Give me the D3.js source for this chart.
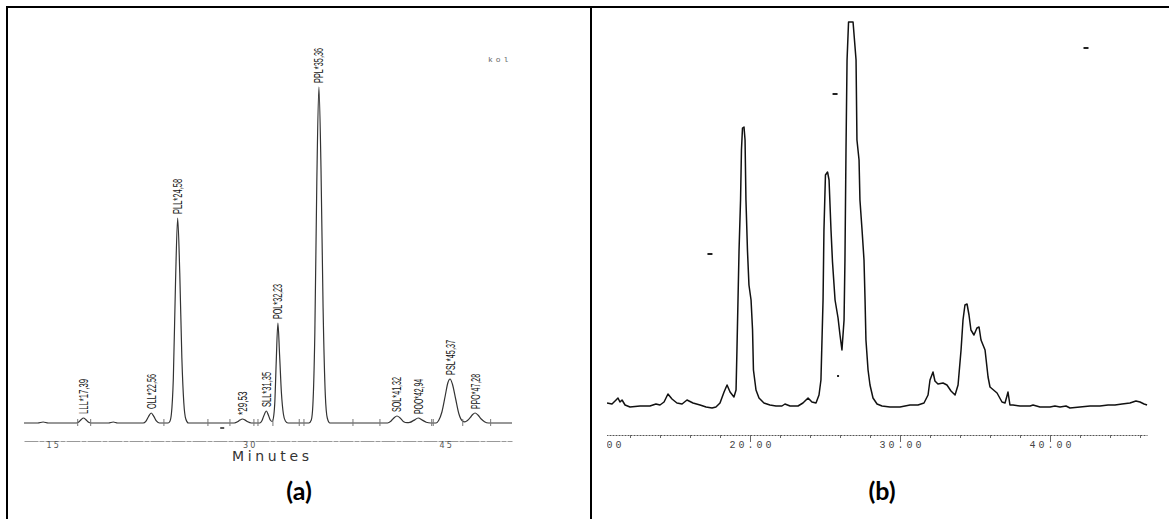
<!DOCTYPE html>
<html>
<head>
<meta charset="utf-8">
<script src="https://cdn.jsdelivr.net/npm/d3@7"></script>
<style>
  html, body { margin: 0; padding: 0; background: #fff; }
  svg { display: block; }
</style>
</head>
<body>
<svg id="fig" width="1169" height="519"></svg>
<script>
// ---------- Panel (a): labelled TAG chromatogram ----------
const peakNamesA = ["LLL", "OLL", "PLL", "", "SLL", "POL", "PPL", "SOL", "POO", "PSL", "PPO"];
const peakTimesA = [17.39, 22.56, 24.58, 29.53, 31.35, 32.23, 35.36, 41.32, 42.94, 45.37, 47.28];

// detector trace, [minutes, response]
const traceA = [
  [12.85, 0], [13.9, 0], [14.31, 1], [14.7, 0],
  [16.85, 0], [17.0, 0.7], [17.2, 3.2], [17.39, 5], [17.58, 3.2], [17.78, 0.7], [17.95, 0],
  [19.3, 0], [19.66, 1], [20.0, 0],
  [21.95, 0], [22.15, 1.7], [22.35, 6.3], [22.56, 10], [22.77, 6.3], [22.97, 1.8], [23.2, 0],
  [23.85, 0], [23.98, 1.5], [24.1, 9], [24.25, 45], [24.42, 143], [24.58, 205], [24.74, 150],
  [24.9, 65], [25.05, 20], [25.2, 4], [25.4, 0],
  [28.9, 0], [29.15, 1.2], [29.33, 2.9], [29.53, 4], [29.73, 2.9], [29.93, 1.2], [30.2, 0],
  [30.85, 0], [31.0, 2], [31.15, 7], [31.35, 12], [31.5, 8], [31.65, 3], [31.8, 1.5],
  [31.92, 8], [32.0, 22], [32.1, 60], [32.23, 100], [32.36, 68], [32.5, 30], [32.65, 9], [32.8, 2], [33.0, 0],
  [34.6, 0], [34.78, 3], [34.9, 18], [35.05, 90], [35.2, 240], [35.36, 336], [35.52, 255],
  [35.68, 115], [35.85, 28], [36.0, 5], [36.2, 0],
  [40.6, 0], [40.85, 1.7], [41.1, 5.3], [41.32, 7], [41.54, 5.3], [41.8, 1.6], [42.1, 0.3],
  [42.3, 0.6], [42.6, 2.6], [42.94, 5], [43.25, 2.9], [43.55, 0.8], [43.9, 0],
  [44.3, 0], [44.5, 2.5], [44.75, 11], [45.0, 27], [45.2, 40], [45.37, 44], [45.55, 39],
  [45.8, 24], [46.05, 9], [46.3, 2.3], [46.5, 1.2], [46.7, 2.5], [46.95, 6], [47.1, 8.5],
  [47.28, 10], [47.5, 8], [47.75, 4], [48.0, 1.3], [48.3, 0],
  [50.1, 0]
];

// integration start/stop marks on the baseline (minutes)
const markTimesA = [16.95, 17.94, 23.53, 26.89, 28.57, 30.40, 30.71, 31.85, 33.86, 34.22,
                    37.96, 40.02, 43.97, 44.09, 46.34, 48.47];
const axisTicksA = [15, 30, 45];
const speckA = [[27.98, -5]];

// ---------- Panel (b): unlabelled chromatogram ----------
const traceB = [
  [10.47, 2], [10.80, 1], [11.07, 5], [11.20, 7], [11.33, 3], [11.47, 5], [11.67, 0],
  [12.00, -2], [12.67, -1], [13.33, -1], [13.73, 1], [14.00, 0], [14.27, 3], [14.53, 11],
  [14.80, 6], [15.13, 2], [15.47, 1], [15.80, 5], [16.20, 2], [16.67, 0], [17.07, -2],
  [17.47, -3], [17.73, -2], [18.00, 2], [18.27, 13], [18.47, 20], [18.67, 13], [18.93, 8],
  [19.07, 15], [19.13, 55], [19.20, 105], [19.27, 155], [19.37, 205], [19.43, 255],
  [19.50, 277], [19.60, 278], [19.67, 265], [19.73, 205], [19.83, 155], [19.93, 120],
  [20.07, 105], [20.17, 75], [20.23, 35], [20.40, 15], [20.60, 7], [20.93, 2], [21.33, 0],
  [21.73, -1], [22.13, -1], [22.33, 1], [22.67, -1], [23.20, -1], [23.53, 2], [23.87, 7],
  [24.13, 3], [24.40, 2], [24.60, 10], [24.73, 25], [24.87, 105], [24.93, 175], [25.03, 230],
  [25.17, 233], [25.27, 225], [25.40, 175], [25.50, 143], [25.67, 105], [25.87, 87],
  [26.00, 70], [26.13, 55], [26.27, 85], [26.33, 145], [26.40, 255], [26.47, 345],
  [26.57, 383], [26.87, 383], [27.07, 345], [27.13, 265], [27.27, 245], [27.33, 205],
  [27.47, 175], [27.60, 145], [27.67, 105], [27.73, 65], [27.87, 35], [28.00, 20],
  [28.20, 7], [28.47, 1], [28.80, -1], [29.33, -2], [30.00, -2], [30.67, 0], [31.20, 0],
  [31.60, 2], [31.87, 10], [32.00, 25], [32.20, 33], [32.33, 24], [32.53, 21], [32.87, 22],
  [33.13, 20], [33.40, 14], [33.67, 10], [33.87, 20], [34.07, 55], [34.20, 85], [34.33, 100],
  [34.47, 101], [34.60, 90], [34.73, 75], [34.93, 70], [35.13, 77], [35.27, 78], [35.40, 65],
  [35.67, 55], [35.87, 28], [36.00, 18], [36.47, 12], [36.80, 3], [37.00, 2], [37.13, 9],
  [37.20, 13], [37.33, 0], [37.53, 0], [38.00, -1], [38.67, -1], [38.87, 0], [39.33, -2],
  [40.00, -2], [40.33, -1], [40.67, -2], [41.07, -1], [41.33, -3], [42.00, -2], [42.67, -1],
  [43.33, -1], [43.87, 0], [44.33, 0], [44.80, 1], [45.33, 2], [45.73, 4], [46.00, 3],
  [46.27, 1], [46.47, 0]
];
const majorTicksB = [10, 20, 30, 40];
const minorTicksB = d3.range(12, 47, 2);
const speckB = [[17.33, 151], [25.67, 311], [42.4, 357], [25.87, 29]];

const svg = d3.select("#fig");

// frame of the two-cell figure
const frame = svg.append("g").attr("stroke", "#000").attr("stroke-width", 2);
frame.append("line").attr("x1", 6).attr("x2", 1169).attr("y1", 7).attr("y2", 7);
frame.append("line").attr("x1", 7).attr("x2", 7).attr("y1", 6).attr("y2", 519);
frame.append("line").attr("x1", 591).attr("x2", 591).attr("y1", 6).attr("y2", 519);

// ===== panel (a) =====
const xA = d3.scaleLinear().domain([12.85, 50.1]).range([24, 512]);
const yA = d3.scaleLinear().domain([0, 340]).range([423, 83]);
const gA = svg.append("g");

gA.append("path")
  .datum(traceA)
  .attr("fill", "none")
  .attr("stroke", "#333")
  .attr("stroke-width", 1.2)
  .attr("d", d3.line().x(d => xA(d[0])).y(d => yA(d[1])).curve(d3.curveMonotoneX));

gA.append("g").selectAll("line")
  .data(markTimesA)
  .join("line")
  .attr("x1", d => xA(d)).attr("x2", d => xA(d))
  .attr("y1", yA(4)).attr("y2", yA(-3))
  .attr("stroke", "#777").attr("stroke-width", 1);

// peak labels, rotated, sitting above each apex
const fmtComma = v => v.toFixed(2).replace(".", ",");
peakTimesA.forEach((t, i) => {
  const apex = traceA.find(p => p[0] === t);
  const txt = peakNamesA[i] + "*" + fmtComma(t);
  gA.append("text")
    .attr("transform", `translate(${xA(t)},${yA(apex[1]) - 4}) rotate(-90)`)
    .attr("dy", "0.36em")
    .attr("font-family", "Liberation Sans, Arial, sans-serif")
    .attr("font-size", 12.5)
    .attr("fill", "#111")
    .attr("textLength", 3.9 * txt.length)
    .attr("lengthAdjust", "spacingAndGlyphs")
    .text(txt);
});

speckA.forEach(s => {
  gA.append("line")
    .attr("x1", xA(s[0]) - 2).attr("x2", xA(s[0]) + 2)
    .attr("y1", yA(s[1])).attr("y2", yA(s[1]))
    .attr("stroke", "#222").attr("stroke-width", 1.5);
});

// time axis
const axA = gA.append("g")
  .attr("transform", `translate(0,${yA(-18)})`)
  .call(d3.axisBottom(xA).tickValues(axisTicksA).tickSize(0).tickSizeOuter(0).tickPadding(1));
axA.select(".domain").attr("stroke", "#999").attr("stroke-dasharray", "14,1,5,1");
axA.selectAll("text")
  .attr("font-family", "DejaVu Sans, sans-serif")
  .attr("font-size", 8)
  .attr("letter-spacing", 2)
  .attr("dx", 1)
  .attr("fill", "#555");

gA.append("text")
  .attr("x", 232).attr("y", 461)
  .attr("font-family", "DejaVu Sans, sans-serif")
  .attr("font-size", 14)
  .attr("fill", "#333")
  .attr("textLength", 77)
  .attr("lengthAdjust", "spacing")
  .text("Minutes");

gA.append("text")
  .attr("x", 488).attr("y", 62)
  .attr("font-family", "Liberation Mono, monospace")
  .attr("font-size", 8)
  .attr("fill", "#666")
  .attr("letter-spacing", 3)
  .text("kol");

gA.append("text")
  .attr("x", 299).attr("y", 500)
  .attr("text-anchor", "middle")
  .attr("font-family", "Lato, sans-serif")
  .attr("font-weight", "bold")
  .attr("font-size", 25)
  .attr("fill", "#000")
  .text("(a)");

// ===== panel (b) =====
const xB = d3.scaleLinear().domain([10, 46.5]).range([600, 1147.5]);
const yB = d3.scaleLinear().domain([0, 400]).range([405, 5]);
const gB = svg.append("g");

svg.append("clipPath").attr("id", "clipB")
  .append("rect").attr("x", xB(10.47)).attr("y", 0).attr("width", xB(46.5) - xB(10.47)).attr("height", 519);

gB.append("path")
  .datum(traceB)
  .attr("fill", "none")
  .attr("stroke", "#111")
  .attr("stroke-width", 1.5)
  .attr("stroke-linejoin", "round")
  .attr("d", d3.line().x(d => xB(d[0])).y(d => yB(d[1])));

speckB.forEach((s, i) => {
  gB.append("line")
    .attr("x1", xB(s[0]) - (i === 3 ? 1 : 2.5)).attr("x2", xB(s[0]) + (i === 3 ? 1 : 2.5))
    .attr("y1", yB(s[1])).attr("y2", yB(s[1]))
    .attr("stroke", "#222").attr("stroke-width", 2);
});

const axB = gB.append("g")
  .attr("clip-path", "url(#clipB)")
  .attr("transform", `translate(0,${yB(-30)})`);
axB.append("g")
  .call(d3.axisBottom(xB).tickValues(minorTicksB).tickSize(3).tickSizeOuter(0).tickFormat(""))
  .call(g => g.select(".domain").attr("stroke", "#555").attr("stroke-dasharray", "2,1"))
  .call(g => g.selectAll(".tick line").attr("stroke", "#666"));
axB.append("g")
  .call(d3.axisBottom(xB).tickValues(majorTicksB).tickSize(7).tickSizeOuter(0).tickPadding(-1)
        .tickFormat(d => d.toFixed(2)))
  .call(g => g.select(".domain").remove())
  .call(g => g.selectAll(".tick line").attr("stroke", "#666"))
  .call(g => g.selectAll("text")
    .attr("font-family", "Liberation Mono, monospace")
    .attr("font-size", 10)
    .attr("letter-spacing", 3)
    .attr("dx", 1.5)
    .attr("fill", "#444"));

gB.append("text")
  .attr("x", 882).attr("y", 500)
  .attr("text-anchor", "middle")
  .attr("font-family", "Lato, sans-serif")
  .attr("font-weight", "bold")
  .attr("font-size", 25)
  .attr("fill", "#000")
  .text("(b)");
</script>
</body>
</html>
